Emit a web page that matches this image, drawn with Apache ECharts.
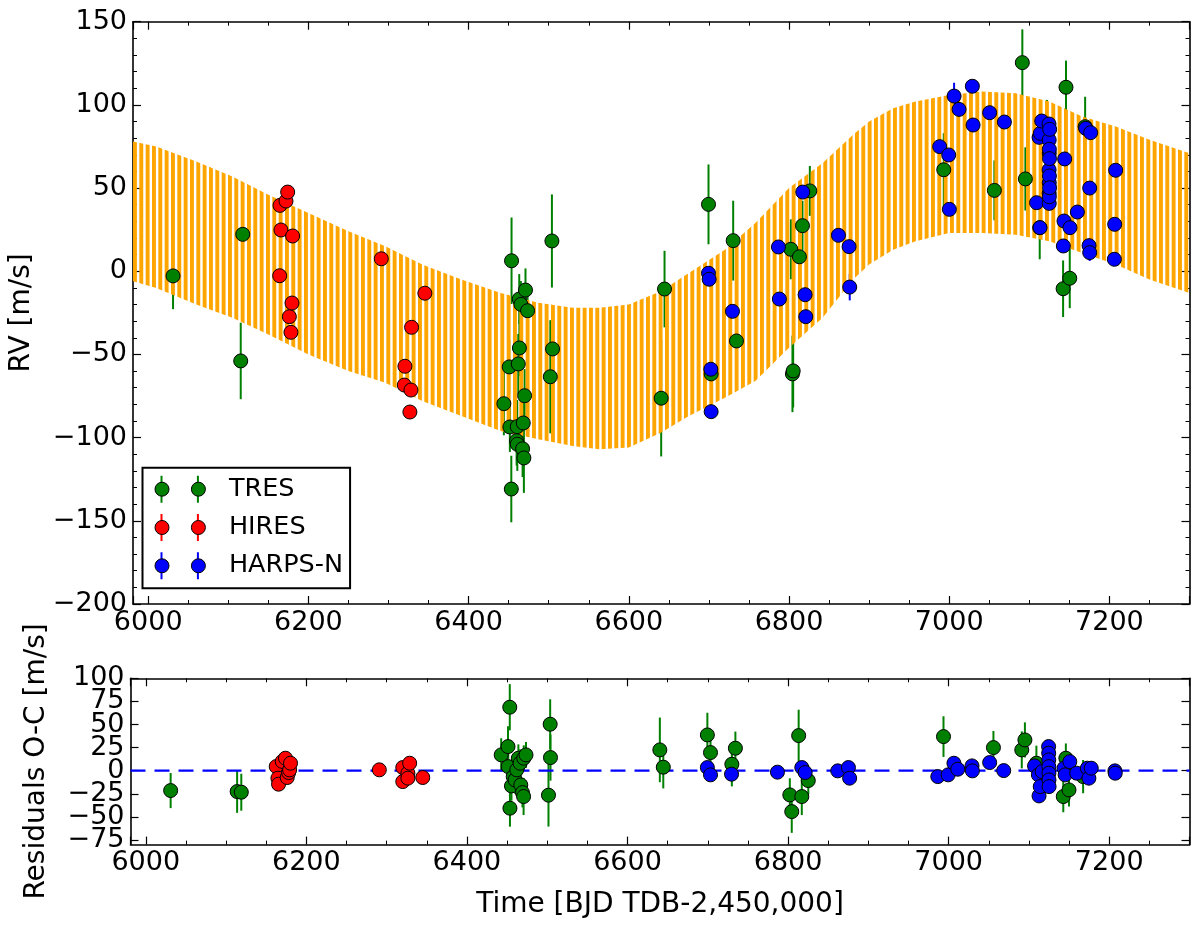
<!DOCTYPE html>
<html>
<head>
<meta charset="utf-8">
<script src="https://cdn.jsdelivr.net/npm/echarts@6.0.0/dist/echarts.min.js"></script>
<style>
html,body{margin:0;padding:0;background:#fff;}
#chart{width:1200px;height:926px;}
</style>
</head>
<body>
<div id="chart"></div>
<script>
// ---------------- data ----------------
const xTickValues = [6000, 6200, 6400, 6600, 6800, 7000, 7200];
const legendNames = ['TRES', 'HIRES', 'HARPS-N'];

// TRES (top panel)
const tresTime = [6031, 6115.5, 6118, 6444, 6450.7, 6451.5, 6453.3, 6453.6, 6459.9, 6460.7, 6460.8, 6462, 6463.2, 6463.4, 6465.3, 6467.4, 6468.2, 6469, 6469.9, 6471, 6473.6, 6502, 6504, 6504.8, 6640.4, 6644.6, 6699.5, 6702.8, 6730.3, 6734.4, 6802.3, 6804.3, 6805.2, 6813, 6816.8, 6826, 6993.2, 7056.4, 7091.3, 7095.1, 7113, 7122, 7142.2, 7145.8, 7150.5, 7169.7];
const tresRV   = [-2.8, -53.9, 22.2, -79.6, -57.5, -93.6, -130.9, 6.3, -101.8, -93.4, -104, -55.7, -16.7, -46.1, -19.9, -106.7, -91.2, -112.2, -74.8, -11.3, -23.7, -63.4, 18.2, -46.7, -76.3, -10.7, 40.2, -61.7, 18.4, -41.9, 13.2, -61.7, -59.9, 8.7, 27.4, 48.3, 61, 48.6, 125.4, 55.5, 26.2, 82, -10.5, 110.6, -4.2, 86.9];
const tresErr  = [20, 23, 20, 19, 16, 15, 20, 26, 15, 16, 16, 18, 15, 17, 14, 17, 17, 21, 16, 13, 14, 34, 28, 25, 35, 23, 24, 22, 24, 18, 18, 23, 22, 16, 15, 15, 22, 18, 20, 19, 19, 21, 17, 16, 18, 18];

// HIRES (top panel)
const hiresTime = [6164.1, 6164.5, 6165.7, 6172.0, 6174.1, 6176.2, 6178.2, 6179.5, 6180.3, 6291.0, 6319.7, 6320.5, 6326.7, 6328.0, 6328.8, 6345.4];
const hiresRV   = [-2.7, 39.6, 24.8, 42.2, 47.6, -27.3, -36.7, -19.1, 21.2, 7.5, -68.4, -57.1, -84.6, -71.4, -33.7, -13.2];
const hiresErr  = [3, 3, 3, 3, 3, 3, 3, 3, 3, 3, 3, 3, 3, 3, 3, 3];

// HARPS-N (top panel)
const harpsTime = [6699.5, 6700.3, 6702.4, 6702.8, 6729.4, 6786.8, 6788.0, 6817.2, 6820.1, 6820.9, 6861.7, 6875.0, 6875.8, 6988.1, 6999.4, 7000.2, 7006.1, 7012.3, 7028.9, 7029.8, 7050.5, 7068.9, 7109.1, 7112.2, 7113.4, 7113.8, 7115.5, 7124.6, 7124.7, 7124.8, 7124.8, 7124.9, 7124.9, 7124.9, 7125.0, 7125.0, 7125.1, 7125.2, 7125.3, 7125.4, 7142.5, 7143.3, 7144.2, 7150.8, 7160.0, 7170.4, 7174.6, 7175.4, 7175.4, 7176.6, 7206.2, 7206.6, 7207.8];
const harpsRV   = [-1.2, -4.8, -58.9, -84.4, -24.1, 14.6, -16.7, 47.6, -14.1, -27.3, 21.6, 14.8, -9.5, 74.9, 69.9, 37.2, 105.3, 97.3, 111.2, 87.9, 95.3, 89.7, 41.2, 80.5, 26.2, 82.9, 90.3, 88.5, 60.9, 78.9, 46.9, 70.9, 53.2, 40.8, 73.3, 44.8, 57.3, 67.7, 50.2, 85.3, 15.2, 30.2, 67.5, 26.2, 35.6, 85.9, 15.4, 11.2, 50.0, 83.3, 7.2, 28.2, 60.7];
const harpsErr  = [3, 3, 4, 3, 3, 3, 3, 3, 3, 4, 3, 3, 8, 3, 3, 3, 8, 3, 3, 3, 3, 3, 3, 3, 3, 3, 3, 3, 3, 3, 3, 3, 3, 3, 3, 3, 3, 3, 3, 3, 3, 3, 3, 3, 3, 3, 3, 5, 3, 3, 3, 3, 3];

// Model band (envelope of the fast oscillating orange curve)
const modelTime  = [5981, 6010, 6060, 6105, 6150, 6200, 6250, 6296, 6342, 6391, 6440, 6487, 6530, 6563, 6600, 6640, 6675, 6720, 6758, 6800, 6842, 6880, 6900, 6930, 6958, 7000, 7041, 7083, 7125, 7166, 7208, 7250, 7300];
const modelUpper = [78, 75, 66, 57, 46, 35, 24, 15, 4, -5, -13, -19, -22, -22, -20, -12, -1, 13, 29, 50, 65, 82, 90, 98, 102, 106, 108, 107, 102, 93, 87, 79, 71];
const modelLower = [-6, -10, -20, -28, -38, -50, -60, -67, -78, -87, -96, -101, -105, -107, -106, -97, -87, -76, -66, -46, -28, -5, 4, 13, 18, 23, 23, 22, 18, 11, 4, -5, -13];

// Residuals (bottom panel)
const tresResTime = [6031, 6113.8, 6119, 6442.7, 6451.2, 6451.5, 6453.4, 6453.6, 6455.5, 6457.7, 6460, 6462.1, 6464.1, 6466.2, 6467.1, 6469.2, 6470.6, 6470.8, 6473.6, 6501.6, 6503.7, 6504.1, 6640.3, 6644.6, 6699.5, 6703.4, 6730, 6734.4, 6802.2, 6804.6, 6813.2, 6817.1, 6825.2, 6993.6, 7055.8, 7091.1, 7095, 7109.3, 7142.8, 7146, 7149.9, 7167.5];
const tresRes     = [-21.5, -22.6, -23.3, 17.1, 26.1, 4.4, 68.7, -40.6, -16.5, -6.4, -10, 0.9, 13.5, 8.1, -15.4, -23.7, -28, 13.5, 17.1, -26.5, 50.3, 14.2, 22.5, 3.8, 38.7, 19.6, 7, 24.3, -26.2, -44.3, 38, -28, -10.7, 36.9, 25, 22.5, 33.3, 8.1, -28, 13.5, -20.8, -6.4];
const tresResErr  = [19, 23, 20, 18, 22, 16, 25, 20, 16, 15, 15, 16, 15, 15, 17, 16, 20, 14, 14, 34, 27, 25, 35, 23, 24, 22, 24, 18, 18, 23, 28, 20, 15, 22, 18, 20, 19, 19, 17, 16, 18, 18];

const hiresResTime = [6162.5, 6164.6, 6165.4, 6170, 6174, 6176.2, 6178, 6179.2, 6180.3, 6290.9, 6320.1, 6320.1, 6326.5, 6326.5, 6328.7, 6345];
const hiresRes     = [4.5, -8.1, -14.6, 10, 13.5, -7.4, -2, 0.9, 8.1, 0.9, 3.4, -11.8, -2.7, -8.1, 8.1, -7.4];
const hiresResErr  = [3, 3, 3, 3, 3, 3, 3, 3, 3, 3, 3, 3, 3, 3, 3, 3];

const harpsResTime = [6699.5, 6703.4, 6729.6, 6786.8, 6817.1, 6821.3, 6861.9, 6875.2, 6876.7, 6986.5, 6999.4, 7006.6, 7011.4, 7029.1, 7029.6, 7051.1, 7068.6, 7107, 7111.8, 7112.6, 7114.1, 7116.5, 7124.5, 7124.6, 7124.7, 7124.8, 7124.9, 7125, 7125.1, 7143.7, 7145.1, 7150.9, 7159.5, 7172.8, 7174.7, 7177.6, 7207.1, 7207.5];
const harpsRes     = [3.4, -4.5, -3.8, -1.6, 3.4, -2, -0.2, 3.4, -8.1, -6.4, -4.5, 8.1, 1.6, 5.2, -0.2, 8.8, 0.1, 5.2, -4.5, -27.3, -17.2, -1, 26.1, 18.9, 11.7, 4.4, -2.7, -10, -17.2, 2.7, -4.5, 9.8, -2.7, 2.7, -8.1, 2.7, -0.2, -2.7];
const harpsResErr  = [3, 3, 3, 3, 3, 3, 3, 3, 3, 3, 3, 3, 3, 3, 3, 3, 3, 3, 3, 3, 3, 3, 3, 3, 3, 3, 3, 3, 3, 3, 3, 3, 3, 3, 3, 3, 3, 3];

// ---------------- styling / layout ----------------
const xMin = 5981, xMax = 7300;
const resMin = -80, resMax = 100;   // residual panel range
// residual ticks every 25, split into two interleaved sets (-75,-25,25,75) and (-50,0,50,100)
const resTicksA = [-75, 75], resTicksB = [-50, 100], resTickStep = 50;
const FONT = 'DejaVu Sans';
const COL = { TRES: '#008000', HIRES: '#FF0000', 'HARPS-N': '#0000FF' };
const ORANGE = '#FFA500';

const G_LEFT = 130.5, G_W = 1059;
const TOP_T = 21.7, TOP_H = 582.3;
const BOT_T = 678.3, BOT_H = 166.3;
const PXU = BOT_H / (resMax - resMin);   // px per residual unit
function subGrid(r) { return { left: G_LEFT, width: G_W, top: BOT_T + (resMax - r[1]) * PXU, height: (r[1] - r[0]) * PXU }; }

// striped pattern imitating the densely oscillating model curve
const pat = document.createElement('canvas');
pat.width = 19; pat.height = 8;
(function () {
  const c = pat.getContext('2d');
  c.fillStyle = ORANGE;
  for (let k = 0; k < 3; k++) c.fillRect(k * 19 / 3, 0, 3.9, 8);
})();

const minus = v => (v < 0 ? '\u2212' + Math.abs(v) : String(v));
const LINE = { color: '#000', width: 1.6 };
const TICK = { show: true, inside: true, length: 8, lineStyle: { color: '#000', width: 1.2 } };

function xAxisDef(grid, pos, showLabels, name) {
  const a = {
    type: 'value', gridIndex: grid, position: pos, min: xMin, max: xMax, splitNumber: 6,
    axisLine: { show: true, onZero: false, lineStyle: LINE },
    axisTick: TICK,
    minorTick: { show: true, splitNumber: 4, length: 4, lineStyle: { color: '#000', width: 1 } },
    axisLabel: { show: showLabels, margin: 5, fontSize: 27, fontFamily: FONT, color: '#000',
      formatter: v => (xTickValues.indexOf(v) >= 0 ? String(v) : '') },
    splitLine: { show: false }, minorSplitLine: { show: false }
  };
  if (name) {
    a.name = name; a.nameLocation = 'middle'; a.nameGap = 46;
    a.nameTextStyle = { fontSize: 28, fontFamily: FONT, color: '#000' };
  }
  return a;
}

function resTickAxis(grid, pos, r, labels) {
  return { type: 'value', gridIndex: grid, position: pos, min: r[0], max: r[1], interval: resTickStep,
    axisLine: { show: false, onZero: false }, axisTick: TICK,
    axisLabel: { show: labels, margin: 6, fontSize: 27, fontFamily: FONT, color: '#000', formatter: minus,
      showMinLabel: true, showMaxLabel: true },
    splitLine: { show: false } };
}

const option = {
  animation: false,
  backgroundColor: '#fff',
  grid: [
    { left: G_LEFT, top: TOP_T, width: G_W, height: TOP_H },
    { left: G_LEFT, top: BOT_T, width: G_W, height: BOT_H },
    subGrid(resTicksA),
    subGrid(resTicksB)
  ],
  xAxis: [
    xAxisDef(0, 'bottom', true),
    xAxisDef(0, 'top', false),
    xAxisDef(1, 'bottom', true, 'Time [BJD TDB-2,450,000]'),
    xAxisDef(1, 'top', false),
    { type: 'value', gridIndex: 2, min: xMin, max: xMax, show: false },
    { type: 'value', gridIndex: 3, min: xMin, max: xMax, show: false }
  ],
  yAxis: [
    { type: 'value', gridIndex: 0, position: 'left', min: -200, max: 150, interval: 50,
      axisLine: { show: true, onZero: false, lineStyle: LINE },
      axisTick: TICK,
      minorTick: { show: true, splitNumber: 5, length: 4, lineStyle: { color: '#000', width: 1 } },
      axisLabel: { margin: 6, fontSize: 27, fontFamily: FONT, color: '#000', formatter: minus,
        showMinLabel: true, showMaxLabel: true },
      splitLine: { show: false }, minorSplitLine: { show: false },
      name: 'RV [m/s]', nameLocation: 'middle', nameGap: 97,
      nameTextStyle: { fontSize: 28, fontFamily: FONT, color: '#000' } },
    { type: 'value', gridIndex: 0, position: 'right', min: -200, max: 150, interval: 50,
      axisLine: { show: true, onZero: false, lineStyle: LINE },
      axisTick: TICK,
      minorTick: { show: true, splitNumber: 5, length: 4, lineStyle: { color: '#000', width: 1 } },
      axisLabel: { show: false }, splitLine: { show: false }, minorSplitLine: { show: false } },
    // residual data axes (frame + title)
    { type: 'value', gridIndex: 1, position: 'left', min: resMin, max: resMax,
      axisLine: { show: true, onZero: false, lineStyle: LINE },
      axisTick: { show: false }, axisLabel: { show: false }, splitLine: { show: false },
      name: 'Residuals O-C [m/s]', nameLocation: 'middle', nameGap: 80,
      nameTextStyle: { fontSize: 28, fontFamily: FONT, color: '#000' } },
    { type: 'value', gridIndex: 1, position: 'right', min: resMin, max: resMax,
      axisLine: { show: true, onZero: false, lineStyle: LINE },
      axisTick: { show: false }, axisLabel: { show: false }, splitLine: { show: false } },
    // residual tick/label axes on the same pixel scale
    resTickAxis(2, 'left', resTicksA, true),
    resTickAxis(2, 'right', resTicksA, false),
    resTickAxis(3, 'left', resTicksB, true),
    resTickAxis(3, 'right', resTicksB, false)
  ],
  legend: [],
  series: []
};

function errSeries(name, t, v, e, xi, yi) {
  return {
    type: 'custom', name: name + ' err', xAxisIndex: xi, yAxisIndex: yi, z: 1, silent: true,
    data: t.map((x, i) => [x, v[i], e[i]]),
    encode: { x: 0, y: 1 },
    renderItem: (params, api) => {
      const x = api.value(0), y = api.value(1), er = api.value(2);
      const a = api.coord([x, y - er]), b = api.coord([x, y + er]);
      return { type: 'line', shape: { x1: a[0], y1: a[1], x2: b[0], y2: b[1] },
        style: { stroke: COL[name], lineWidth: 2 } };
    }
  };
}

function ptSeries(name, t, v, xi, yi) {
  return {
    type: 'scatter', name: name, xAxisIndex: xi, yAxisIndex: yi, z: 3,
    symbol: 'circle', symbolSize: 14,
    itemStyle: { color: COL[name], borderColor: '#000', borderWidth: 1, opacity: 1 },
    emphasis: { disabled: true },
    data: t.map((x, i) => [x, v[i]])
  };
}

const bandSeries = {
  type: 'custom', name: 'model', xAxisIndex: 0, yAxisIndex: 0, z: 2, silent: true,
  data: [[modelTime[0], modelUpper[0]]],
  renderItem: (params, api) => {
    const pts = [];
    for (let i = 0; i < modelTime.length; i++) pts.push(api.coord([modelTime[i], modelUpper[i]]));
    for (let i = modelTime.length - 1; i >= 0; i--) pts.push(api.coord([modelTime[i], modelLower[i]]));
    return { type: 'polygon', shape: { points: pts }, style: { fill: { image: pat, repeat: 'repeat' }, stroke: null } };
  }
};

const zeroLine = {
  type: 'line', name: 'zero', xAxisIndex: 2, yAxisIndex: 2, z: 2, silent: true,
  symbol: 'none', data: [[xMin, 0], [xMax, 0]],
  lineStyle: { color: '#0000FF', width: 2.2, type: [15, 9] }
};

// legend icons: error bars (with invisible end points so both icons share one bounding box) and two markers
const barIcon = 'path://M0 13.5 L0.01 13.5 L0 13.52 Z M6 0 L8 0 L8 27 L6 27 Z M42.4 0 L44.4 0 L44.4 27 L42.4 27 Z M50.39 13.5 L50.4 13.5 L50.39 13.52 Z';
const dotIcon = 'path://M0 7 A7 7 0 1 0 14 7 A7 7 0 1 0 0 7 Z M36.4 7 A7 7 0 1 0 50.4 7 A7 7 0 1 0 36.4 7 Z';

const legendBase = {
  data: legendNames, orient: 'vertical', left: 142.5, top: 467.7,
  padding: [8, 7, 9, 12], itemGap: 11.3, itemWidth: 50.4, itemHeight: 27,
  symbolKeepAspect: true, selectedMode: false
};

option.legend = [
  Object.assign({}, legendBase, {
    icon: barIcon, z: 10,
    borderColor: '#000', borderWidth: 2, borderRadius: 0, backgroundColor: '#fff',
    itemStyle: { borderWidth: 0 },
    textStyle: { fontSize: 25.5, fontFamily: FONT, color: '#000', lineHeight: 27, padding: [0, 0, 0, 19] }
  }),
  Object.assign({}, legendBase, {
    icon: dotIcon, z: 11,
    borderWidth: 0, backgroundColor: 'transparent',
    itemStyle: { borderColor: '#000', borderWidth: 1 },
    textStyle: { fontSize: 25.5, fontFamily: FONT, color: 'rgba(0,0,0,0)', lineHeight: 27, padding: [0, 0, 0, 19] }
  })
];

option.series = [
  errSeries('TRES', tresTime, tresRV, tresErr, 0, 0),
  errSeries('HIRES', hiresTime, hiresRV, hiresErr, 0, 0),
  errSeries('HARPS-N', harpsTime, harpsRV, harpsErr, 0, 0),
  bandSeries,
  ptSeries('TRES', tresTime, tresRV, 0, 0),
  ptSeries('HIRES', hiresTime, hiresRV, 0, 0),
  ptSeries('HARPS-N', harpsTime, harpsRV, 0, 0),
  errSeries('TRES', tresResTime, tresRes, tresResErr, 2, 2),
  errSeries('HIRES', hiresResTime, hiresRes, hiresResErr, 2, 2),
  errSeries('HARPS-N', harpsResTime, harpsRes, harpsResErr, 2, 2),
  zeroLine,
  ptSeries('TRES', tresResTime, tresRes, 2, 2),
  ptSeries('HIRES', hiresResTime, hiresRes, 2, 2),
  ptSeries('HARPS-N', harpsResTime, harpsRes, 2, 2)
];

const chart = echarts.init(document.getElementById('chart'), null, { renderer: 'canvas' });
chart.setOption(option);
</script>
</body>
</html>
